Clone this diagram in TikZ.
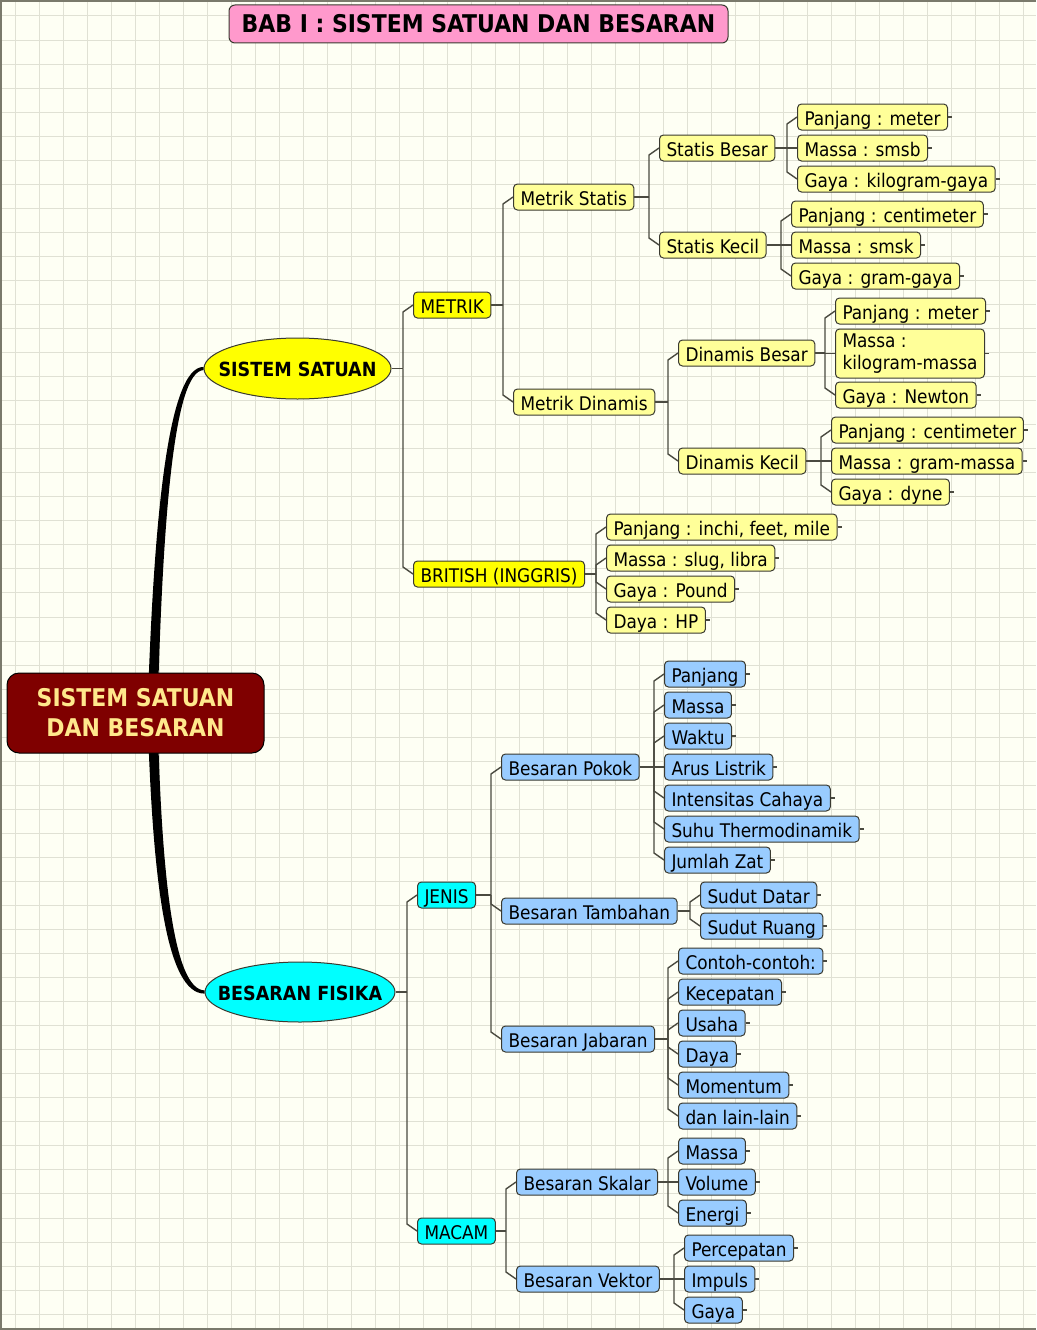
\documentclass[tikz,border=0pt]{standalone}
\usepackage{fontspec}
\setmainfont{DejaVu Sans Condensed}
\usetikzlibrary{shapes.geometric,calc}

\definecolor{latar}{HTML}{FEFFF4}
\definecolor{kisi}{HTML}{E0E1D4}
\definecolor{bingkai}{HTML}{7A7A6C}
\definecolor{tepi}{HTML}{3A3A30}
\definecolor{garis}{HTML}{4A4A40}
\definecolor{merahjambu}{HTML}{FF99CC}
\definecolor{marun}{HTML}{7F0000}
\definecolor{krim}{HTML}{FFE88C}
\definecolor{kuning}{HTML}{FFFF00}
\definecolor{kuningmuda}{HTML}{FFFF99}
\definecolor{toska}{HTML}{00FFFF}
\definecolor{birumuda}{HTML}{99CCFF}

\newcommand\hurufkecil{\fontsize{18.8pt}{22pt}\selectfont}
\newcommand\hurufelips{\bfseries\fontsize{19.5pt}{23pt}\selectfont}
\newcommand\hurufbesar{\bfseries\fontsize{24.4pt}{30pt}\selectfont}

\pgfdeclarelayer{bawah}
\pgfsetlayers{bawah,main}

\tikzset{
  kartu/.style={draw=tepi, line width=1pt, rounded corners=4pt, inner xsep=7pt, inner ysep=2pt, minimum height=26pt, anchor=west, font=\hurufkecil},
  baris/.style={kartu, text height=18pt, text depth=2pt},
  kuningbox/.style={baris, fill=kuning},
  krembox/.style={baris, fill=kuningmuda},
  tosbox/.style={baris, fill=toska},
  birubox/.style={baris, fill=birumuda},
  elips/.style={draw=tepi, line width=1pt, ellipse, inner xsep=-20pt, inner ysep=0pt, text height=18pt, text depth=2pt, font=\hurufelips},
  link/.style={draw=garis, line width=1.4pt},
}

% parent, first child, list of child/shift
\newcommand\cabang[3]{%
  \coordinate (#1T) at ($(#2.west |- #1.east)+(-10,0)$);
  \draw[link] (#1.east) -- (#1T);
  \foreach \anak/\geser in {#3}
    \draw[link] (#1T) -- ($(#1T |- \anak.west)+(0,\geser)$) -- (\anak.west);
}

\begin{document}
\begin{tikzpicture}[x=1pt,y=-1pt]
    \useasboundingbox (0,0) rectangle (1036,1330);

    % paper
    \begin{pgfonlayer}{bawah}
    \fill[latar] (0,0) rectangle (1036,1330);
    \foreach \x in {15,39,...,1036} \draw[kisi, line width=1pt] (\x,0) -- (\x,1330);
    \foreach \y in {16,40.04,...,1330} \draw[kisi, line width=1pt] (0,\y) -- (1036,\y);
    \draw[bingkai, line width=2pt] (1036,1) -- (1,1) -- (1,1329) -- (1036,1329);
    \end{pgfonlayer}

    % title and centre
    \node[draw=tepi, line width=1pt, fill=merahjambu, rounded corners=6pt, minimum width=499pt, minimum height=38pt, font=\hurufbesar] (judul) at (478.5,24) {BAB I : SISTEM SATUAN DAN BESARAN};
    \node[draw=black, line width=1pt, fill=marun, text=krim, rounded corners=12pt, minimum width=257pt, minimum height=80pt, align=center, font=\hurufbesar] (pusat) at (135.5,713) {SISTEM SATUAN\\DAN BESARAN};

    \node[elips, fill=kuning, minimum width=187pt, minimum height=61pt] (ss) at (297.5,368.5) {SISTEM SATUAN};
    \node[elips, fill=toska, minimum width=190pt, minimum height=60pt] (bf) at (300,992) {BESARAN FISIKA};

    % Sistem satuan
    \node[kuningbox] (met) at (413,305) {METRIK};
    \node[kuningbox] (brit) at (413,574) {BRITISH (INGGRIS)};
    \node[krembox] (ms) at (513,197) {Metrik Statis};
    \node[krembox] (md) at (513,402) {Metrik Dinamis};
    \node[krembox] (sbes) at (659,148) {Statis Besar};
    \node[krembox] (skec) at (659,245) {Statis Kecil};
    \node[krembox] (sb1) at (797,117) {Panjang : meter};
    \node[krembox] (sb2) at (797,148) {Massa : smsb};
    \node[krembox] (sb3) at (797,179) {Gaya : kilogram-gaya};
    \node[krembox] (sk1) at (791,214) {Panjang : centimeter};
    \node[krembox] (sk2) at (791,245) {Massa : smsk};
    \node[krembox] (sk3) at (791,276) {Gaya : gram-gaya};
    \node[krembox] (dbes) at (678,353) {Dinamis Besar};
    \node[krembox] (dkec) at (678,461) {Dinamis Kecil};
    \node[krembox] (db1) at (835,311) {Panjang : meter};
    \node[kartu, fill=kuningmuda, align=left, minimum height=49pt] (db2) at (835,353.5) {Massa :\\kilogram-massa};
    \node[krembox] (db3) at (835,395) {Gaya : Newton};
    \node[krembox] (dk1) at (831,430) {Panjang : centimeter};
    \node[krembox] (dk2) at (831,461) {Massa : gram-massa};
    \node[krembox] (dk3) at (831,492) {Gaya : dyne};
    \node[krembox] (br1) at (606,527) {Panjang : inchi, feet, mile};
    \node[krembox] (br2) at (606,558) {Massa : slug, libra};
    \node[krembox] (br3) at (606,589) {Gaya : Pound};
    \node[krembox] (br4) at (606,620) {Daya : HP};

    % Besaran fisika
    \node[tosbox] (jen) at (417,895) {JENIS};
    \node[tosbox] (mac) at (417,1231) {MACAM};
    \node[birubox] (bp) at (501,767) {Besaran Pokok};
    \node[birubox] (bt) at (501,911) {Besaran Tambahan};
    \node[birubox] (bj) at (501,1039) {Besaran Jabaran};
    \node[birubox] (bp1) at (664,674) {Panjang};
    \node[birubox] (bp2) at (664,705) {Massa};
    \node[birubox] (bp3) at (664,736) {Waktu};
    \node[birubox] (bp4) at (664,767) {Arus Listrik};
    \node[birubox] (bp5) at (664,798) {Intensitas Cahaya};
    \node[birubox] (bp6) at (664,829) {Suhu Thermodinamik};
    \node[birubox] (bp7) at (664,860) {Jumlah Zat};
    \node[birubox] (bt1) at (700,895) {Sudut Datar};
    \node[birubox] (bt2) at (700,926) {Sudut Ruang};
    \node[birubox] (bj1) at (678,961) {Contoh-contoh:};
    \node[birubox] (bj2) at (678,992) {Kecepatan};
    \node[birubox] (bj3) at (678,1023) {Usaha};
    \node[birubox] (bj4) at (678,1054) {Daya};
    \node[birubox] (bj5) at (678,1085) {Momentum};
    \node[birubox] (bj6) at (678,1116) {dan lain-lain};
    \node[birubox] (bsk) at (516,1182) {Besaran Skalar};
    \node[birubox] (bvk) at (516,1279) {Besaran Vektor};
    \node[birubox] (bs1) at (678,1151) {Massa};
    \node[birubox] (bs2) at (678,1182) {Volume};
    \node[birubox] (bs3) at (678,1213) {Energi};
    \node[birubox] (bv1) at (684,1248) {Percepatan};
    \node[birubox] (bv2) at (684,1279) {Impuls};
    \node[birubox] (bv3) at (684,1310) {Gaya};

    % main branches
    \begin{pgfonlayer}{bawah}
    \fill[black] ($(pusat)+(12,0)$) .. controls +(6,-190) and +(-36,0) .. ([yshift=1.6pt]ss.west)
      -- ([yshift=-1.6pt]ss.west) .. controls +(-30,1) and +(5,-190) .. ($(pusat)+(22,0)$) -- cycle;
    \fill[black] ($(pusat)+(12,0)$) .. controls +(5,170) and +(-38,0) .. ([yshift=-1.6pt]bf.west)
      -- ([yshift=1.6pt]bf.west) .. controls +(-30,-1) and +(4,170) .. ($(pusat)+(22,0)$) -- cycle;
    \end{pgfonlayer}

    % links
    \cabang{ss}{met}{met/7, brit/-7}
    \cabang{met}{ms}{ms/7, md/-7}
    \cabang{ms}{sbes}{sbes/7, skec/-7}
    \cabang{md}{dbes}{dbes/7, dkec/-7}
    \cabang{sbes}{sb1}{sb1/7, sb2/0, sb3/-7}
    \cabang{skec}{sk1}{sk1/7, sk2/0, sk3/-7}
    \cabang{dbes}{db1}{db1/7, db2/0, db3/-7}
    \cabang{dkec}{dk1}{dk1/7, dk2/0, dk3/-7}
    \cabang{brit}{br1}{br1/7, br2/7, br3/-7, br4/-7}
    \cabang{bf}{jen}{jen/7, mac/-7}
    \cabang{jen}{bp}{bp/7, bt/-7, bj/-7}
    \cabang{bp}{bp1}{bp1/7, bp2/7, bp3/7, bp4/0, bp5/-7, bp6/-7, bp7/-7}
    \cabang{bt}{bt1}{bt1/7, bt2/-7}
    \cabang{bj}{bj1}{bj1/7, bj2/7, bj3/7, bj4/-7, bj5/-7, bj6/-7}
    \cabang{mac}{bsk}{bsk/7, bvk/-7}
    \cabang{bsk}{bs1}{bs1/7, bs2/0, bs3/-7}
    \cabang{bvk}{bv1}{bv1/7, bv2/0, bv3/-7}

    % leaf stubs
    \foreach \daun in {sb1,sb2,sb3,sk1,sk2,sk3,db1,db2,db3,dk1,dk2,dk3,br1,br2,br3,br4,
                       bp1,bp2,bp3,bp4,bp5,bp6,bp7,bt1,bt2,bj1,bj2,bj3,bj4,bj5,bj6,bs1,bs2,bs3,bv1,bv2,bv3}
      \draw[link] (\daun.east) -- ++(4,0);
\end{tikzpicture}
\end{document}
